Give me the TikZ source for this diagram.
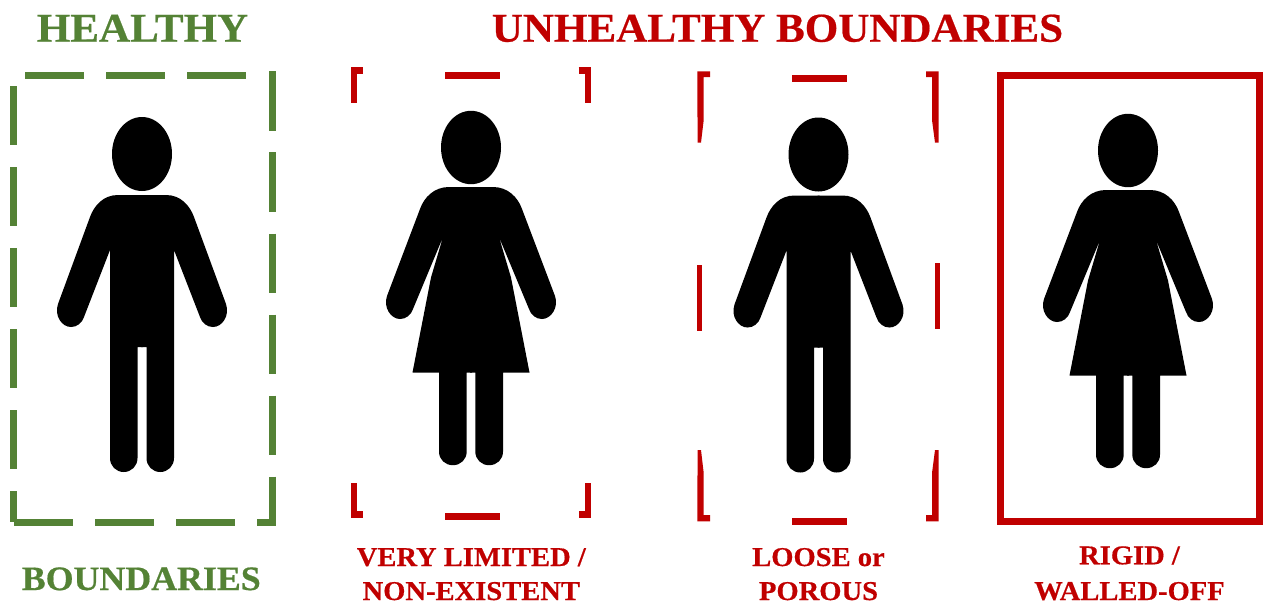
\documentclass[tikz,border=0pt]{standalone}
\usepackage{fontspec}
\setmainfont{Liberation Serif}[BoldFeatures={FakeStretch=1.05,FakeBold=0.5}]
\definecolor{healthygreen}{HTML}{548235}
\definecolor{unhealthyred}{HTML}{C00000}
\tikzset{
  titlelabel/.style={anchor=base, inner sep=0pt, font=\fontsize{30.75}{36}\selectfont\bfseries, text=#1},
  sidelabel/.style={anchor=base, inner sep=0pt, align=center, font=\fontsize{20.4}{25.5}\selectfont\bfseries, text=unhealthyred},
  greendash/.style={draw=healthygreen, line width=5.25pt, dash pattern=on 44.4pt off 16.4pt},
  redbar/.style={draw=unhealthyred, line width=5.25pt},
  redpiece/.style={fill=unhealthyred, draw=none},
  manfigure/.pic={
    \fill (0,0) ellipse [x radius=30, y radius=37];
    \foreach \side in {1,-1}
      \fill[xscale=\side] (-1,41) -- (24,41) .. controls (39,41) and (48,52) .. (52,63) -- (84,150)
        .. controls (88,162) and (80,173) .. (71,173) .. controls (65,173) and (60,169) .. (58,163)
        -- (32,96) -- (32,304) .. controls (32,312) and (26,318) .. (18.25,318)
        .. controls (10.5,318) and (4.5,312) .. (4.5,304) -- (4.5,193) -- (-1,193) -- cycle;
  },
  womanfigure/.pic={
    \fill (0,0) ellipse [x radius=30, y radius=36.7];
    \foreach \side in {1,-1}
      \fill[xscale=\side] (-1,39.5) -- (22,39.5) .. controls (37,39.5) and (47,50) .. (51,61.5) -- (84,148.5)
        .. controls (88,160) and (80,171.5) .. (71,171.5) .. controls (65,171.5) and (60,167.5) .. (58,161.5)
        -- (28,89.5) -- (40,130) -- (58.5,225) -- (32,225) -- (32,304)
        .. controls (32,312) and (26,317.7) .. (18,317.7) .. controls (10.5,317.7) and (4.3,312) .. (4.3,304)
        -- (4.3,225) -- (-1,225) -- cycle;
  }
}
\begin{document}
\begin{tikzpicture}[x=0.75pt,y=-0.75pt]
\useasboundingbox (0,0) rectangle (1264,604);

\node[titlelabel=healthygreen] (healthy) at (142.5,41.7) {HEALTHY};
\node[titlelabel=unhealthyred] (unhealthy) at (777.5,41.7) {UNHEALTHY BOUNDARIES};

\draw[greendash] (13.8,86) -- (13.8,522);
\draw[greendash] (25,75) -- (250,75);
\draw[greendash] (272.5,71.4) -- (272.5,525.6);
\draw[greendash] (14,522) -- (276,522);
\pic at (142,154) {manfigure};

\draw[redbar, line width=4.8pt] (362.7,70.3) -- (353.8,70.3) -- (353.8,103.3);
\draw[redbar, line width=4.8pt] (578.7,70.3) -- (588,70.3) -- (588,103.3);
\draw[redbar] (445,75) -- (500,75);
\draw[redbar, line width=4.8pt] (353.8,483.3) -- (353.8,514.5) -- (362.7,514.5);
\draw[redbar, line width=4.8pt] (588,483.3) -- (588,514.5) -- (578.7,514.5);
\draw[redbar] (445,516) -- (500,516);
\pic at (471,147.5) {womanfigure};

\fill[redpiece] (697.3,71.3) -- (710,71.3) -- (710,77) -- (703.7,77) -- (703.7,120) -- (701,142.7) -- (697.6,142.7) -- cycle;
\fill[redpiece] (938.7,71.3) -- (926,71.3) -- (926,77) -- (932,77) -- (932,120) -- (935,142.7) -- (938.7,142.7) -- cycle;
\draw[redbar] (792.3,78.8) -- (847.3,78.8);
\fill[redpiece] (697,265.3) rectangle (702,331.3);
\fill[redpiece] (934.7,263.3) rectangle (939.7,329.3);
\fill[redpiece] (697.6,450) -- (701,450) -- (703.7,473) -- (703.7,515) -- (710,515) -- (710,521.3) -- (697.3,521.3) -- cycle;
\fill[redpiece] (938.7,450) -- (935,450) -- (932,473) -- (932,515) -- (926,515) -- (926,521.3) -- (938.7,521.3) -- cycle;
\draw[redbar] (792.3,521.7) -- (847.3,521.7);
\pic at (818.5,154.5) {manfigure};

\draw[unhealthyred, line width=5.25pt] (1000.8,75) rectangle (1259.8,521.8);
\pic at (1128,150.5) {womanfigure};

\node[titlelabel=healthygreen, font=\fontsize{25.6}{30}\selectfont\bfseries] (boundaries) at (141.3,590) {BOUNDARIES};
\node[sidelabel] (limited) at (471.3,600) {VERY LIMITED /\\NON-EXISTENT};
\node[sidelabel] (loose) at (818.5,600) {LOOSE or\\POROUS};
\node[sidelabel] (rigid) at (1129.5,600) {RIGID /\\[1.3pt]WALLED-OFF};
\end{tikzpicture}
\end{document}
